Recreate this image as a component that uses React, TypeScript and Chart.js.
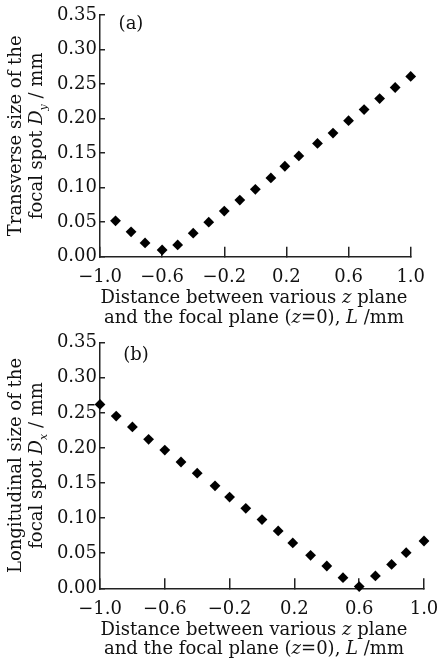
import React, { useEffect, useRef } from "react";
import { Chart, registerables } from "chart.js";

Chart.register(...registerables);

// ---- Data ----
const aX = [-0.9, -0.8, -0.71, -0.6, -0.5, -0.4, -0.3, -0.2, -0.1, 0.0, 0.1, 0.19, 0.28, 0.4, 0.5, 0.6, 0.7, 0.8, 0.9, 1.0];
const aY = [0.052, 0.036, 0.02, 0.0097, 0.017, 0.034, 0.05, 0.066, 0.082, 0.0975, 0.114, 0.131, 0.146, 0.164, 0.179, 0.197, 0.213, 0.229, 0.245, 0.261];

const bX = [-1.0, -0.9, -0.8, -0.7, -0.6, -0.5, -0.4, -0.29, -0.2, -0.1, 0.0, 0.1, 0.19, 0.3, 0.4, 0.5, 0.6, 0.7, 0.8, 0.89, 1.0];
const bY = [0.262, 0.2455, 0.23, 0.2123, 0.197, 0.18, 0.164, 0.146, 0.13, 0.114, 0.098, 0.0817, 0.0646, 0.047, 0.0318, 0.0152, 0.0024, 0.0176, 0.034, 0.0508, 0.0674];

const xTickMin = -1.0;
const xTickMax = 1.0;
const xTickStep = 0.4;
const yTickMin = 0.0;
const yTickMax = 0.35;
const yTickStep = 0.05;

type Run = { t: string; i?: boolean; sub?: boolean };

const xTitleLines: Run[][] = [
  [{ t: "Distance between various " }, { t: "z", i: true }, { t: " plane" }],
  [{ t: "and the focal plane (" }, { t: "z", i: true }, { t: "=0), " }, { t: "L", i: true }, { t: " /mm" }],
];

const aYTitle: Run[][] = [
  [{ t: "Transverse size of the" }],
  [{ t: "focal spot " }, { t: "D", i: true }, { t: "y", i: true, sub: true }, { t: " / mm" }],
];
const bYTitle: Run[][] = [
  [{ t: "Longitudinal size of the" }],
  [{ t: "focal spot " }, { t: "D", i: true }, { t: "x", i: true, sub: true }, { t: " / mm" }],
];

const FONT = '"DejaVu Serif", serif';
const INK = "#111";

function drawRuns(ctx: CanvasRenderingContext2D, runs: Run[], cx: number, baseline: number, size: number) {
  const fontFor = (r: Run) => `${r.i ? "italic " : ""}${r.sub ? Math.round(size * 0.62) : size}px ${FONT}`;
  const widths = runs.map((r) => {
    ctx.font = fontFor(r);
    return ctx.measureText(r.t).width;
  });
  const total = widths.reduce((s, w) => s + w, 0);
  let x = cx - total / 2;
  ctx.textAlign = "left";
  ctx.textBaseline = "alphabetic";
  runs.forEach((r, k) => {
    ctx.font = fontFor(r);
    ctx.fillText(r.t, x, baseline + (r.sub ? size * 0.28 : 0));
    x += widths[k];
  });
}

type Cfg = {
  xs: number[];
  ys: number[];
  tag: string;
  tagX: number;
  yTitle: Run[][];
  top: number;
  right: number;
  xHeight: number;
};

function makeTitles(cfg: Cfg) {
  return {
    id: "customTitles",
    afterDraw(chart: any) {
      const { ctx, chartArea } = chart;
      const ca = chartArea;
      ctx.save();
      ctx.fillStyle = INK;
      const size = 18;
      const cx = 254;
      drawRuns(ctx, xTitleLines[0], cx, ca.bottom + 46.5, size);
      drawRuns(ctx, xTitleLines[1], cx, ca.bottom + 66, size);
      const cy = (ca.top + ca.bottom) / 2;
      const bases = [20.7, 41.7];
      cfg.yTitle.forEach((line, k) => {
        ctx.save();
        ctx.translate(bases[k], cy);
        ctx.rotate(-Math.PI / 2);
        drawRuns(ctx, line, 0, 0, size);
        ctx.restore();
      });
      ctx.font = `${size}px ${FONT}`;
      ctx.textAlign = "center";
      ctx.textBaseline = "middle";
      ctx.fillText(cfg.tag, cfg.tagX, 24);
      ctx.restore();
    },
  };
}

function fmtX(v: number) {
  const a = Math.abs(v) < 1e-9 ? 0 : v;
  return (a < 0 ? "\u2212" : "") + Math.abs(a).toFixed(1);
}

function Panel({ cfg }: { cfg: Cfg }) {
  const ref = useRef<HTMLCanvasElement | null>(null);
  useEffect(() => {
    if (!ref.current) return;
    const data = cfg.xs.map((x, i) => ({ x, y: cfg.ys[i] }));
    const chart = new Chart(ref.current, {
      type: "scatter",
      data: {
        datasets: [
          {
            data,
            pointStyle: "rectRot",
            pointRadius: 5.4,
            pointBorderWidth: 0,
            backgroundColor: "#000",
            borderColor: "#000",
            clip: false,
          } as any,
        ],
      },
      plugins: [makeTitles(cfg)],
      options: {
        responsive: false,
        animation: false,
        layout: { padding: { top: cfg.top, right: cfg.right, left: 0, bottom: 0 } },
        plugins: { legend: { display: false }, tooltip: { enabled: false }, title: { display: false } },
        scales: {
          x: {
            type: "linear",
            min: xTickMin,
            max: xTickMax,
            afterFit: (s: any) => {
              s.height = cfg.xHeight;
              s.paddingLeft = 0;
              s.paddingRight = 0;
            },
            afterBuildTicks: (s: any) => {
              const t: any[] = [];
              for (let v = xTickMin; v <= xTickMax + 1e-9; v += xTickStep) t.push({ value: Math.round(v * 10) / 10 });
              s.ticks = t;
            },
            ticks: {
              callback: (v: any) => fmtX(Number(v)),
              color: INK,
              font: { family: FONT, size: 18 },
              padding: 20,
              maxRotation: 0,
              autoSkip: false,
            },
            grid: { drawOnChartArea: false, drawTicks: true, tickLength: -10, color: "#222", lineWidth: 1.5 },
            border: { display: true, color: "#222", width: 1.5 },
          },
          y: {
            type: "linear",
            min: yTickMin,
            max: yTickMax,
            afterFit: (s: any) => {
              s.width = 100;
              s.paddingTop = 0;
              s.paddingBottom = 0;
            },
            afterBuildTicks: (s: any) => {
              const t: any[] = [];
              for (let v = yTickMin; v <= yTickMax + 1e-9; v += yTickStep) t.push({ value: Math.round(v * 100) / 100 });
              s.ticks = t;
            },
            ticks: {
              callback: (v: any) => Number(v).toFixed(2),
              color: INK,
              font: { family: FONT, size: 18 },
              padding: 8,
              autoSkip: false,
            },
            grid: { drawOnChartArea: false, drawTicks: true, tickLength: -5, color: "#222", lineWidth: 1.5 },
            border: { display: true, color: "#222", width: 1.5 },
          },
        },
      },
    });
    return () => chart.destroy();
  }, [cfg]);
  return <canvas ref={ref} width={441} height={331} style={{ display: "block", width: 441, height: 331 }} />;
}

const cfgA: Cfg = { xs: aX, ys: aY, tag: "(a)", tagX: 131, yTitle: aYTitle, top: 15, right: 30.3, xHeight: 74.3 };
const cfgB: Cfg = { xs: bX, ys: bY, tag: "(b)", tagX: 136, yTitle: bYTitle, top: 11.7, right: 17, xHeight: 73.7 };

export default function App() {
  useEffect(() => {
    document.body.style.margin = "0";
    document.body.style.background = "#fff";
  }, []);
  return (
    <div style={{ position: "absolute", left: 0, top: 0, width: 441, height: 662, background: "#fff" }}>
      <Panel cfg={cfgA} />
      <Panel cfg={cfgB} />
    </div>
  );
}
